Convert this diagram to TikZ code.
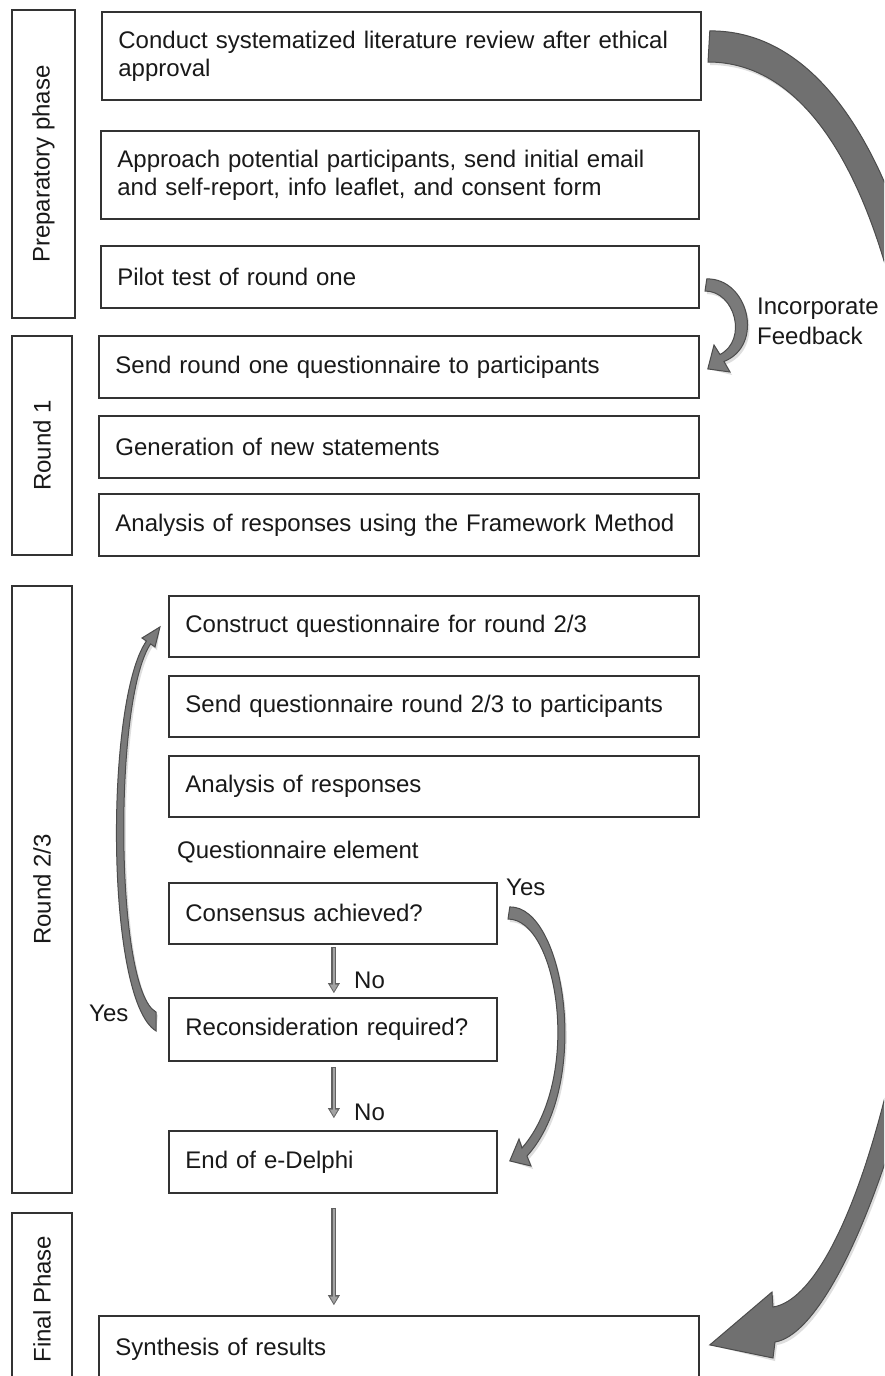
\documentclass[tikz,border=0pt]{standalone}
\usepackage{fontspec}
\setmainfont{Liberation Sans}
\usetikzlibrary{arrows.meta,calc}
\begin{document}
\begin{tikzpicture}[x=1pt,y=-1pt,
  every node/.style={font=\fontsize{24pt}{28pt}\selectfont, text=black!90, inner sep=0pt},
  stepbox/.style={draw=black!80, line width=1.8pt, fill=white, anchor=north west, align=left, inner xsep=16.5pt, inner ysep=0pt},
  phasebox/.style={draw=black!80, line width=1.8pt, fill=white, rotate=90},
  blockarrow/.style={fill=black!52, draw=black!70, line width=1pt, line join=miter},
  arrowshadow/.style={fill=black!13, draw=none, shift={(2,3)}},
  smallout/.style={line width=5pt, draw=black!62, -{Triangle[width=12pt,length=10pt,line width=0.4pt]}},
  smallin/.style={line width=2.6pt, draw=black!36, shorten >=1.8pt, -{Triangle[width=7.5pt,length=6.5pt,line width=0.4pt]}}
]
\path[use as bounding box, fill=white] (0,0) rectangle (884,1376);
\clip (0,0) rectangle (884,1376);

% phase boxes
\node[phasebox, minimum width=308pt, minimum height=63pt] (prep) at (43.5,164) {Preparatory phase};
\node[phasebox, minimum width=219pt, minimum height=60pt] (r1) at (42,445.5) {Round 1};
\node[phasebox, minimum width=607pt, minimum height=60pt] (r23) at (42,889.5) {Round 2/3};
\node[phasebox, minimum width=172pt, minimum height=60pt] (fin) at (42,1299) {Final Phase};

% step boxes
\node[stepbox, text width=566pt, minimum height=88pt] (lit) at (101,11) {Conduct systematized literature review after ethical\\approval};
\node[stepbox, text width=565pt, minimum height=88pt] (appr) at (100,130) {Approach potential participants, send initial email\\and self-report, info leaflet, and consent form};
\node[stepbox, text width=565pt, minimum height=62pt] (pilot) at (100,245) {Pilot test of round one};
\node[stepbox, text width=567pt, minimum height=62pt] (send1) at (98,335) {Send round one questionnaire to participants};
\node[stepbox, text width=567pt, minimum height=62pt] (gen) at (98,415) {Generation of new statements};
\node[stepbox, text width=567pt, minimum height=62pt] (anal1) at (98,493) {Analysis of responses using the Framework Method};
\node[stepbox, text width=497pt, minimum height=61pt] (constr) at (168,595) {Construct questionnaire for round 2/3};
\node[stepbox, text width=497pt, minimum height=61pt] (send2) at (168,675) {Send questionnaire round 2/3 to participants};
\node[stepbox, text width=497pt, minimum height=61pt] (anal2) at (168,755) {Analysis of responses};
\node[anchor=west] (qel) at (177,852) {Questionnaire element};
\node[stepbox, text width=295pt, minimum height=61pt] (cons) at (168,882) {Consensus achieved?};
\node[stepbox, text width=295pt, minimum height=63pt] (recon) at (168,997) {Reconsideration required?};
\node[stepbox, text width=295pt, minimum height=62pt] (endd) at (168,1130) {End of e-Delphi};
\node[stepbox, text width=567pt, minimum height=66pt] (synth) at (98,1315) {Synthesis of results};

% labels
\node[anchor=west] (yesA) at (506,887) {Yes};
\node[anchor=west] (yesB) at (89,1013) {Yes};
\node[anchor=west] (noA) at (354,980) {No};
\node[anchor=west] (noB) at (354,1112) {No};
\node[anchor=west, align=left] (feed) at (757,321) {Incorporate\\[2pt]Feedback};

% small straight arrows
\foreach \a/\b/\s/\e in {cons/recon/2/-4, recon/endd/5/-12, endd/synth/14/-10}{
  \draw[smallout] ($(\a.south)+(1,\s)$) -- ($(\a.south |- \b.north)+(1,\e)$);
  \draw[smallin] ($(\a.south)+(1,\s+1)$) -- ($(\a.south |- \b.north)+(1,\e)$);
}

% named ends of the curved block arrows
\coordinate (bigtail) at ($(lit.east)+(8,-25)$);
\coordinate (bigtip) at ($(synth.east)+(10,-4)$);
\coordinate (inctail) at ($(pilot.east)+(7,2)$);
\coordinate (inctip) at ($(send1.east)+(8,2)$);
\coordinate (yatail) at ($(cons.east)+(12,-6.5)$);
\coordinate (yatip) at ($(endd.east)+(12,-1)$);
\coordinate (ybtail) at ($(recon.west)+(-12,1.5)$);
\coordinate (ybtip) at ($(constr.west)+(-8,0.5)$);

\def\bigpath{(bigtail) .. controls (872,30) and (962,300) .. (962,680)
  .. controls (962,1000) and (850,1330) .. (775,1342) -- (773,1358) -- (bigtip) -- (772,1292) -- (773,1307)
  .. controls (850,1295) and (933,1000) .. (933,680) .. controls (933,320) and (856,62) .. (708,62) -- cycle}
\def\incpath{(inctail) .. controls (748,278) and (765,345) .. (724,361.5) -- (730,372) -- (inctip) -- (714,345) -- (720,354.5)
  .. controls (748,340) and (735,291) .. (705,291) -- cycle}
\def\yapath{(yatail) .. controls (565,906) and (592,1085) .. (527,1156) -- (531,1166) -- (yatip) -- (519,1139) -- (522,1148)
  .. controls (583,1078) and (558,919) .. (508,919) -- cycle}
\def\ybpath{(ybtail) .. controls (105,1000) and (105,700) .. (146.4,641.1) -- (142,638) -- (ybtip) -- (155,647) -- (150.6,643.9)
  .. controls (113,700) and (115,990) .. (156,1012) -- cycle}

\fill[arrowshadow] \bigpath;
\filldraw[blockarrow, fill=black!56] \bigpath;
\fill[arrowshadow] \incpath;
\filldraw[blockarrow] \incpath;
\fill[arrowshadow] \yapath;
\filldraw[blockarrow] \yapath;
\fill[arrowshadow] \ybpath;
\filldraw[blockarrow] \ybpath;
\end{tikzpicture}
\end{document}
